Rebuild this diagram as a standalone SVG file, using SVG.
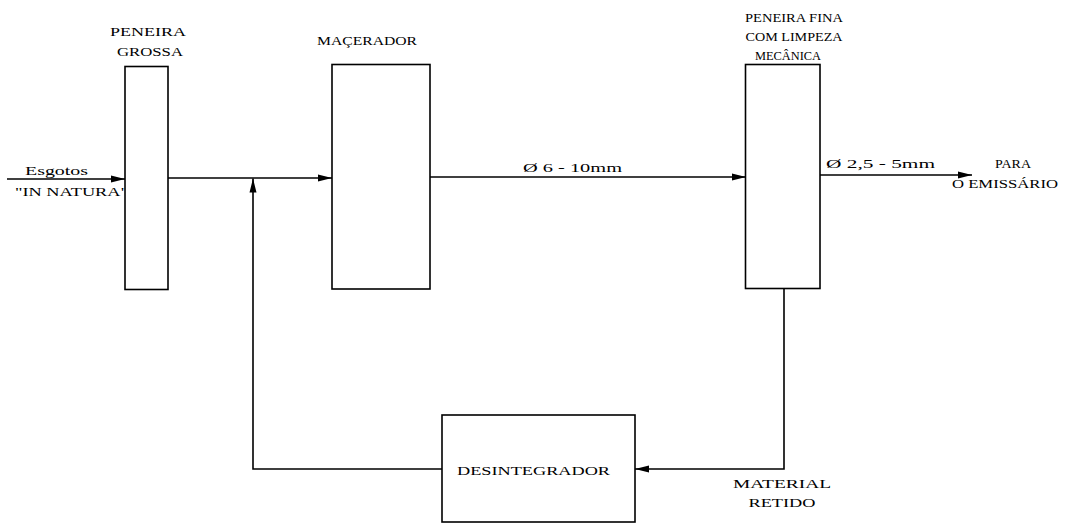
<svg xmlns="http://www.w3.org/2000/svg" width="1078" height="523" viewBox="0 0 1078 523" font-family="'Liberation Serif', 'DejaVu Serif', serif" font-size="13">
<style>
.box{fill:#fff;stroke:#000;stroke-width:1.6}
.ln{fill:none;stroke:#000;stroke-width:1.6}
.t{font-family:'Liberation Serif','DejaVu Serif',serif;font-size:13px;fill:#000}
.m{text-anchor:middle}
</style>
<defs>
<marker id="ah" viewBox="0 0 14 8" refX="14" refY="4" markerWidth="14" markerHeight="8" markerUnits="userSpaceOnUse" orient="auto">
<path d="M0,0.5 L14,4 L0,7.5 Z" fill="#000"/>
</marker>
</defs>
<rect width="1078" height="523" fill="#fff"/>
<g id="connectors">
<path class="ln" d="M7,179 H125" marker-end="url(#ah)"/>
<path class="ln" d="M168,178 H332" marker-end="url(#ah)"/>
<path class="ln" d="M442,469 H253 V178.5" marker-end="url(#ah)"/>
<path class="ln" d="M430,177 H746" marker-end="url(#ah)"/>
<path class="ln" d="M820,175 H972" marker-end="url(#ah)"/>
<path class="ln" d="M784,289 V469 H635" marker-end="url(#ah)"/>
</g>
<g id="labels">
<text class="t" x="25" y="175" textLength="63" lengthAdjust="spacingAndGlyphs">Esgotos</text>
<text class="t" x="15" y="196" textLength="113" lengthAdjust="spacingAndGlyphs">"IN NATURA"</text>
<text class="t" x="523" y="172" textLength="99" lengthAdjust="spacingAndGlyphs">Ø 6 - 10mm</text>
<text class="t" x="826" y="168" textLength="109" lengthAdjust="spacingAndGlyphs">Ø 2,5 - 5mm</text>
<text class="t m" x="1013" y="168" textLength="36" lengthAdjust="spacingAndGlyphs">PARA</text>
<text class="t" x="952" y="188" textLength="106" lengthAdjust="spacingAndGlyphs">O EMISSÁRIO</text>
<text class="t m" x="782" y="488" textLength="98" lengthAdjust="spacingAndGlyphs">MATERIAL</text>
<text class="t m" x="782" y="507" textLength="67" lengthAdjust="spacingAndGlyphs">RETIDO</text>
</g>
<g id="peneira-grossa">
<rect class="box" x="125" y="66.5" width="43" height="223"/>
<text class="t m" x="148" y="36" textLength="76" lengthAdjust="spacingAndGlyphs">PENEIRA</text>
<text class="t m" x="150" y="56" textLength="66" lengthAdjust="spacingAndGlyphs">GROSSA</text>
</g>
<g id="macerador">
<rect class="box" x="332" y="64.5" width="98" height="224.5"/>
<text class="t" x="317" y="45" textLength="100" lengthAdjust="spacingAndGlyphs">MAÇERADOR</text>
</g>
<g id="peneira-fina">
<rect class="box" x="745.5" y="64.5" width="74.5" height="224"/>
<text class="t m" x="794" y="22" textLength="98" lengthAdjust="spacingAndGlyphs">PENEIRA FINA</text>
<text class="t m" x="794" y="41" textLength="97" lengthAdjust="spacingAndGlyphs">COM LIMPEZA</text>
<text class="t m" x="788" y="60" textLength="66" lengthAdjust="spacingAndGlyphs">MECÂNICA</text>
</g>
<g id="desintegrador">
<rect class="box" x="442" y="415" width="193" height="107"/>
<text class="t" x="457" y="475" textLength="153" lengthAdjust="spacingAndGlyphs">DESINTEGRADOR</text>
</g>
</svg>
